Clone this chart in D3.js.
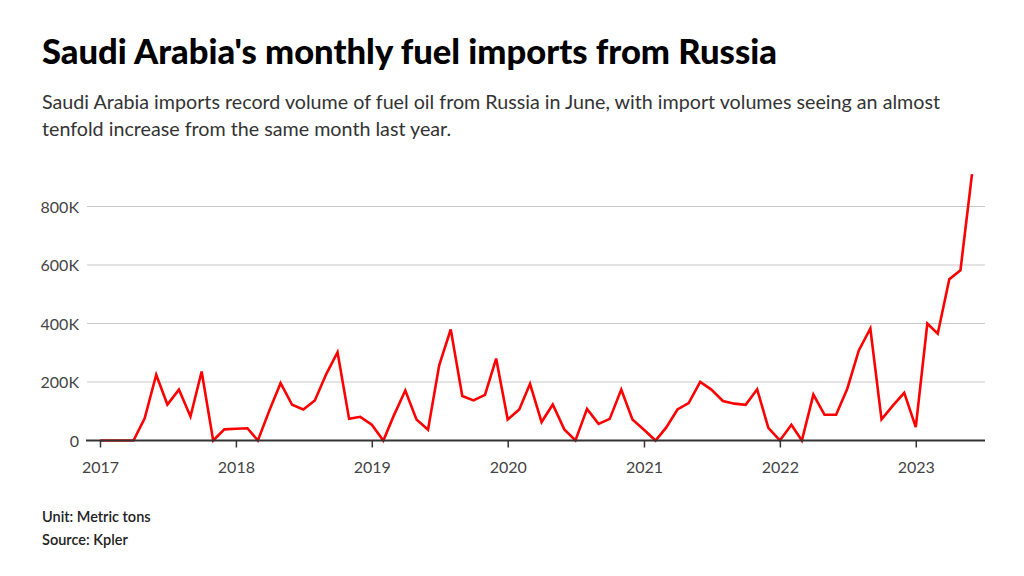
<!DOCTYPE html>
<html><head><meta charset="utf-8">
<script src="https://cdn.jsdelivr.net/npm/d3@7"></script>
<style>
body{margin:0;background:#fff;}
svg{display:block;}
</style></head>
<body>
<svg id="c" width="1024" height="576"></svg>
<script>
const title = "Saudi Arabia's monthly fuel imports from Russia";
const subtitle = ["Saudi Arabia imports record volume of fuel oil from Russia in June, with import volumes seeing an almost",
                  "tenfold increase from the same month last year."];
const footer = ["Unit: Metric tons", "Source: Kpler"];
const startMonth = "2017-01";
// monthly values, metric tons, Jan 2017 - Jun 2023
const values = [
  0, 0, 0, 0, 76000, 225000, 123000, 174000, 82000, 236000, 0, 38000,
  40000, 42000, 0, 103000, 196000, 122000, 106000, 137000, 228000, 302000, 74000, 81000,
  54000, 0, 85000, 171000, 72000, 37000, 257000, 380000, 152000, 137000, 156000, 280000,
  72000, 106000, 194000, 63000, 123000, 38000, 0, 108000, 57000, 74000, 174000, 72000,
  37000, 0, 43000, 106000, 128000, 200000, 174000, 135000, 126000, 122000, 175000, 43000,
  0, 54000, 0, 157000, 88000, 88000, 177000, 308000, 383000, 72000, 120000, 163000,
  46000, 400000, 365000, 551000, 582000, 911000
];
const yTicks = [0, 200000, 400000, 600000, 800000];
const yTickLabels = ["0", "200K", "400K", "600K", "800K"];
const xTickYears = [2017, 2018, 2019, 2020, 2021, 2022, 2023];

const parse = d3.timeParse("%Y-%m");
const t0 = parse(startMonth);
const data = values.map((v, i) => ({date: d3.timeMonth.offset(t0, i), value: v}));

const svg = d3.select("#c");
const F = "Lato, sans-serif";

svg.append("text").attr("x", 42).attr("y", 64)
  .attr("font-family", F).attr("font-weight", 900).attr("font-size", 34.6)
  .attr("fill", "#000").text(title);
subtitle.forEach((s, i) => {
  svg.append("text").attr("x", 42).attr("y", 109 + i * 27)
    .attr("font-family", F).attr("font-size", 19.7).attr("fill", "#333").text(s);
});

const x = d3.scaleTime().domain([t0, data[data.length - 1].date]).range([100, 972]);
const y = d3.scaleLinear().domain([0, 800000]).range([440.5, 206.5]);

// grid
const gy = svg.append("g");
gy.selectAll("line").data(yTicks.filter(d => d > 0)).join("line")
  .attr("x1", 87).attr("x2", 985).attr("y1", d => y(d)).attr("y2", d => y(d))
  .attr("stroke", "#c8c8c8").attr("stroke-width", 1);
gy.selectAll("text").data(yTicks).join("text")
  .attr("x", 79).attr("y", d => y(d) + 6).attr("text-anchor", "end")
  .attr("font-family", F).attr("font-size", 16).attr("fill", "#444")
  .text((d, i) => yTickLabels[i]);

// line
const line = d3.line().x(d => x(d.date)).y(d => y(d.value)).curve(d3.curveLinear);
svg.append("path").datum(data).attr("d", line)
  .attr("fill", "none").attr("stroke", "#ff0000").attr("stroke-width", 2.6)
  .attr("stroke-linejoin", "miter");

// baseline axis
svg.append("line").attr("x1", 86).attr("x2", 985).attr("y1", y(0)).attr("y2", y(0))
  .attr("stroke", "#333").attr("stroke-width", 2);
const xa = d3.axisBottom(x).tickValues(xTickYears.map(yr => new Date(yr, 0, 1)))
  .tickFormat(d3.timeFormat("%Y")).tickSize(7).tickPadding(6);
const gx = svg.append("g").attr("transform", `translate(0,${y(0)})`).call(xa);
gx.select(".domain").remove();
gx.selectAll(".tick line").attr("stroke", "#333").attr("stroke-width", 1.5);
gx.selectAll(".tick text").attr("font-family", F).attr("font-size", 16).attr("fill", "#444")
  .attr("dy", null).attr("y", 32);

footer.forEach((s, i) => {
  svg.append("text").attr("x", 42).attr("y", 522 + i * 23)
    .attr("font-family", F).attr("font-weight", 600).attr("font-size", 14.5)
    .attr("fill", "#222").text(s);
});
</script>
</body></html>
